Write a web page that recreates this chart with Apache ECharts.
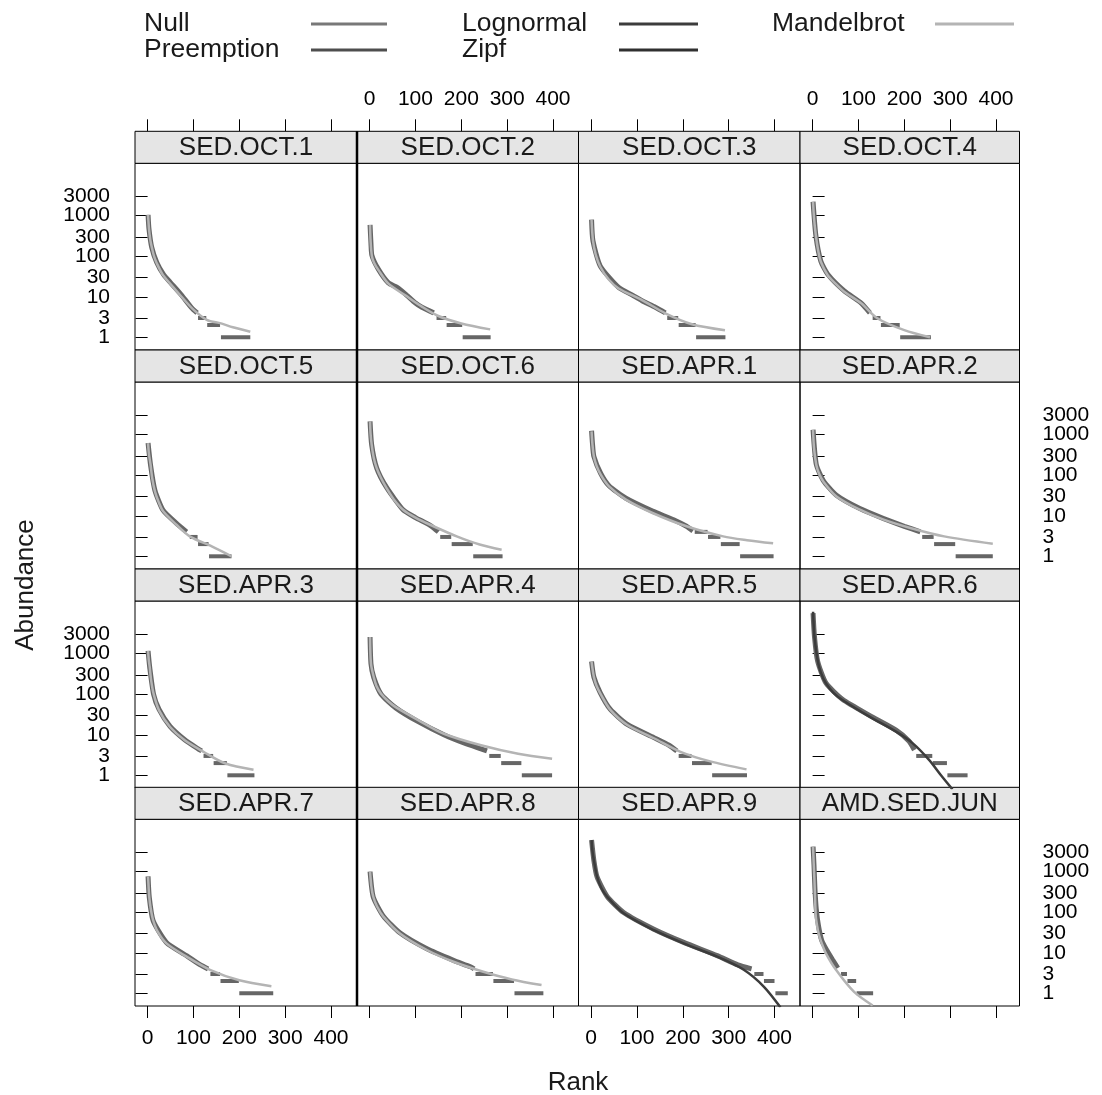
<!DOCTYPE html>
<html><head><meta charset="utf-8">
<script src="https://cdn.jsdelivr.net/npm/echarts@6/dist/echarts.min.js"></script>
<style>html,body{margin:0;padding:0;background:#fff}#c{width:1102px;height:1095px}</style>
</head><body><div id="c"></div>
<script>
// ---------------- data ----------------
const panelNames = ['SED.OCT.1','SED.OCT.2','SED.OCT.3','SED.OCT.4',
  'SED.OCT.5','SED.OCT.6','SED.APR.1','SED.APR.2',
  'SED.APR.3','SED.APR.4','SED.APR.5','SED.APR.6',
  'SED.APR.7','SED.APR.8','SED.APR.9','AMD.SED.JUN'];
const modelNames = ['Null','Preemption','Lognormal','Zipf','Mandelbrot'];
const bestModel = ['Mandelbrot','Mandelbrot','Mandelbrot','Mandelbrot',
  'Mandelbrot','Mandelbrot','Mandelbrot','Mandelbrot',
  'Mandelbrot','Mandelbrot','Mandelbrot','Lognormal',
  'Mandelbrot','Mandelbrot','Lognormal','Mandelbrot'];
const xTicks = [0,100,200,300,400];
const yTicks = [1,3,10,30,100,300,1000,3000];
const yLabelsA = [1,10,100,1000];
const yLabelsB = [3,30,300,3000];

// fitted model curves [rank, abundance]
const fitCurves = [
  [[1,1050],[3,480],[6,250],[9,170],[14,100],[20,67],[33,35],[49,21],[74,10],[100,4.8],[129,2.7],[160,2.2],[186,1.77],[224,1.37]],
  [[1,590],[2,260],[5,100],[10,68],[19,46],[41,21],[77,11],[114,5.7],[150,3.35],[200,2.2],[263,1.57]],
  [[1,780],[4,250],[10,110],[20,55],[38,27],[60,16],[111,8.3],[162,3.9],[220,2.1],[292,1.5]],
  [[1,2200],[3,900],[7,333],[12,140],[18,73],[33,34],[50,21],[69,13.3],[106,6.9],[142,2.9],[200,1.5],[256,1.0]],
  [[1,620],[3,330],[6.5,181],[10,85],[16,40],[24,22],[34,12.9],[63,6.0],[92,3.1],[140,1.75],[183,1.0]],
  [[1,2130],[2,1100],[4.5,565],[9,270],[15.5,150],[25,85],[37,48],[52,26],[73,14.1],[100,9],[132,6.0],[190,3.1],[240,1.95],[288,1.45]],
  [[1,1200],[3,560],[6,294],[12,170],[21,103],[39,53],[76,25],[134,11.7],[208,5.5],[288,3.1],[340,2.5],[397,2.1]],
  [[1,1320],[3,480],[8,181],[14,110],[23,71],[52,30],[103,14.1],[155,8],[213,5],[287,3.1],[393,2.05]],
  [[1,1170],[2.5,700],[4.6,470],[8,210],[13,103],[25,40],[49,15.5],[81,7.3],[122,3.8],[170,1.95],[231,1.37]],
  [[1,2570],[3,565],[9,265],[15,160],[25,103],[40,68],[57,48],[106,23],[162,10.6],[243,5.5],[324,3.4],[398,2.57]],
  [[1,630],[6,270],[12,160],[20,105],[42,41],[79,17.4],[137,8.2],[195,3.8],[260,2.2],[339,1.4]],
  [[1,10800],[4,2630],[11,690],[18,340],[29,186],[45,110],[65,72],[124,28],[182,11.9],[218,6.2],[254,2.4],[280,1.0],[305,0.45]],
  [[1,755],[3.6,240],[7,120],[12,64],[22,33],[41,17],[85,8.0],[136,3.8],[200,2.1],[270,1.5]],
  [[1,1000],[4,420],[8,240],[16,140],[30,78],[66,30],[125,11.7],[183,6.0],[248,3.4],[310,2.2],[375,1.6]],
  [[1,6000],[3,3200],[6,1940],[13,760],[22,400],[35,240],[71,94],[137,36],[202,17],[275,8.0],[333,3.8],[377,1.45],[413,0.45]],
  [[1,4150],[2.5,1500],[4,620],[5.5,200],[7,78],[10,45],[13,30],[20,17],[29,9.7],[51,3.8],[90,1.1],[131,0.5]]
];

// observed abundances: upper part [rank, abundance]
const obsHead = [
  [[1,1050],[3,470],[9,165],[20,70],[35,35],[49,23],[74,11],[95,5.5],[108,4]],
  [[1,590],[3,200],[5,105],[19,48],[41,22],[60,17],[77,12],[100,7],[114,5.5],[140,4]],
  [[1,800],[4,240],[20,57],[60,17],[90,11],[111,8],[140,5.5],[162,4]],
  [[1,2200],[7,330],[18,75],[33,36],[69,14],[106,7],[125,4]],
  [[1,620],[6.5,175],[16,42],[34,13.5],[63,6.5],[85,4]],
  [[1,2130],[4.5,560],[15.5,150],[37,50],[73,14],[100,9],[132,5.8],[150,4]],
  [[1,1250],[3,600],[6,290],[21,110],[39,55],[76,27],[134,13],[180,8],[208,5.5],[222,4.2]],
  [[1,1320],[8,185],[23,75],[52,32],[103,15],[155,8.5],[200,5.5],[235,4]],
  [[1,1170],[4.6,460],[13,100],[25,42],[49,16],[81,7.5],[110,4.5],[118,4]],
  [[1,2570],[3,560],[9,260],[25,100],[57,46],[106,21],[162,10],[210,6],[243,4.5],[256,4]],
  [[1,640],[6,265],[20,108],[42,42],[79,18],[137,8.5],[170,5.5],[187,4]],
  [[1,10000],[4,2700],[11,650],[29,190],[65,75],[124,30],[182,13],[210,7],[222,4.2]],
  [[1,760],[3.6,235],[12,62],[41,18],[85,8.5],[115,5],[132,4]],
  [[1,1000],[8,235],[30,80],[66,31],[125,12.5],[183,6.5],[220,4.5],[228,4]],
  [[1,6000],[6,1900],[13,740],[35,245],[71,98],[137,38],[202,18],[275,8.5],[320,5],[350,4]],
  [[1,4150],[3,1500],[5,400],[8,120],[13,45],[20,20],[30,12],[44,6.6],[55,4.2]]
];

// observed abundances: tied tail [abundance, firstRank, lastRank]
const obsTail = [
  [[3,110,128],[2,130,158],[1,160,224]],
  [[3,146,167],[2,168,202],[1,203,264]],
  [[3,166,190],[2,191,228],[1,229,293]],
  [[3,131,148],[2,149,190],[1,191,258]],
  [[3,92,109],[2,110,133],[1,134,183]],
  [[3,154,178],[2,179,225],[1,226,290]],
  [[4,226,254],[3,255,282],[2,283,324],[1,325,398]],
  [[3,239,264],[2,265,311],[1,312,393]],
  [[3,122,143],[2,144,173],[1,174,233]],
  [[3,261,286],[2,287,331],[1,332,398]],
  [[3,191,219],[2,220,263],[1,264,340]],
  [[3,226,261],[2,262,293],[1,294,338]],
  [[3,137,158],[2,159,199],[1,200,274]],
  [[3,231,269],[2,270,315],[1,316,379]],
  [[3,356,376],[2,377,400],[1,402,429]],
  [[3,62,75],[2,76,95],[1,96,132]]
];

// ---------------- styles / layout ----------------
const modelColors = {Null:'#787878', Preemption:'#4e4e4e', Lognormal:'#3c3c3c', Zipf:'#303030', Mandelbrot:'#b4b4b4'};
const OBS = '#666666';
const FONT = '"Liberation Sans", Arial, sans-serif';
const colL = [135, 357, 578.5, 800];
const colR = [357, 578.5, 800, 1019.5];
const stripTop = [131.3, 350, 569, 787.3];
const STRIP_H = 32;
const panelBottom = [350, 569, 788, 1006];
const PX_PER_RANK = 0.4585, RANK0_OFF = 12.6;
const PX_PER_DEC = 40.55, ONE_OFF = 12.7;

const grids = [], xAxes = [], yAxes = [], series = [], graphics = [];

panelNames.forEach((name, i) => {
  const r = Math.floor(i / 4), c = i % 4;
  const top = stripTop[r] + STRIP_H;
  const w = colR[c] - colL[c];
  const h = panelBottom[r] - top;
  grids.push({left: colL[c], top: top, width: w, height: h, show: true,
    borderColor: '#000', borderWidth: 1, backgroundColor: 'transparent',
    containLabel: false, outerBoundsMode: 'none'});
  const xShowTick = (r === 0 || r === 3);
  const xShowLab = (r === 0 && c % 2 === 1) || (r === 3 && c % 2 === 0);
  xAxes.push({gridIndex: i, type: 'value',
    min: -RANK0_OFF / PX_PER_RANK, max: (w - RANK0_OFF) / PX_PER_RANK,
    position: r === 0 ? 'top' : 'bottom', offset: r === 0 ? STRIP_H : 0,
    axisLine: {show: false},
    axisTick: {show: xShowTick, length: 12, customValues: xTicks, lineStyle: {color: '#000', width: 1}},
    axisLabel: {show: xShowLab, customValues: xTicks, fontSize: 21, fontFamily: FONT, color: '#000', margin: 22,
      showMinLabel: true, showMaxLabel: true, hideOverlap: false,
      formatter: v => String(Math.round(v))},
    splitLine: {show: false}});
  const yShowTick = (c === 0 || c === 3);
  const yShowLab = (c === 0 && r % 2 === 0) || (c === 3 && r % 2 === 1);
  const ymin = Math.pow(10, -ONE_OFF / PX_PER_DEC), ymax = Math.pow(10, (h - ONE_OFF) / PX_PER_DEC);
  // two coincident log axes so that the tightly packed labels are not thinned out
  [yLabelsA, yLabelsB].forEach((labs, k) => {
    yAxes.push({gridIndex: i, type: 'log', logBase: 10, min: ymin, max: ymax,
      position: c === 3 ? 'right' : 'left',
      axisLine: {show: false},
      axisTick: {show: yShowTick && k === 0, length: 12, customValues: yTicks, lineStyle: {color: '#000', width: 1}},
      axisLabel: {show: yShowLab, customValues: labs, fontSize: 21, fontFamily: FONT, color: '#000',
        margin: c === 3 ? 23 : 25, showMinLabel: true, showMaxLabel: true, hideOverlap: false,
        formatter: v => String(Math.round(v))},
      splitLine: {show: false}, minorTick: {show: false}});
  });
  const yi = 2 * i;

  // observed
  series.push({type: 'line', xAxisIndex: i, yAxisIndex: yi, data: obsHead[i], symbol: 'none', smooth: 0.2,
    lineStyle: {color: OBS, width: 5}, z: 2, silent: true, animation: false});
  obsTail[i].forEach(t => {
    series.push({type: 'line', xAxisIndex: i, yAxisIndex: yi, data: [[t[1], t[0]], [t[2], t[0]]], symbol: 'none',
      lineStyle: {color: OBS, width: 4, cap: 'butt'}, z: 2, silent: true, animation: false});
  });
  // fitted best model
  series.push({type: 'line', name: bestModel[i], xAxisIndex: i, yAxisIndex: yi, data: fitCurves[i], symbol: 'none',
    smooth: 0.3, lineStyle: {color: modelColors[bestModel[i]], width: 2.5}, z: 3, silent: true, animation: false});

  // strip
  graphics.push({type: 'rect', shape: {x: colL[c], y: stripTop[r], width: w, height: STRIP_H},
    style: {fill: '#e5e5e5', stroke: '#000', lineWidth: 1}, z: 1});
  graphics.push({type: 'text', x: colL[c] + w / 2, y: stripTop[r] + STRIP_H / 2 + 1,
    style: {text: name, fontSize: 26, fontFamily: FONT, fill: '#1a1a1a', align: 'center', verticalAlign: 'middle'}, z: 2});
});

// heavier divider between first and second column
graphics.push({type: 'line', shape: {x1: 357, y1: stripTop[0], x2: 357, y2: panelBottom[3]},
  style: {stroke: '#000', lineWidth: 2.5}, z: 5});

// legend (key)
const legendPos = {
  Null: [144, 24, 311, 387], Preemption: [144, 50, 311, 387],
  Lognormal: [462, 24, 619, 698], Zipf: [462, 50, 619, 698],
  Mandelbrot: [772, 24, 935, 1014]
};
modelNames.forEach(m => {
  const p = legendPos[m];
  graphics.push({type: 'text', x: p[0], y: p[1],
    style: {text: m, fontSize: 26.5, fontFamily: FONT, fill: '#1a1a1a', align: 'left', verticalAlign: 'middle'}});
  graphics.push({type: 'line', shape: {x1: p[2], y1: p[1], x2: p[3], y2: p[1]},
    style: {stroke: modelColors[m], lineWidth: 3}});
});

// axis titles
graphics.push({type: 'text', x: 578, y: 1083,
  style: {text: 'Rank', fontSize: 26, fontFamily: FONT, fill: '#1a1a1a', align: 'center', verticalAlign: 'middle'}});
graphics.push({type: 'text', x: 26, y: 585, rotation: Math.PI / 2,
  style: {text: 'Abundance', fontSize: 26, fontFamily: FONT, fill: '#1a1a1a', align: 'center', verticalAlign: 'middle'}});

const chart = echarts.init(document.getElementById('c'), null, {renderer: 'canvas'});
chart.setOption({
  animation: false,
  backgroundColor: '#fff',
  grid: grids, xAxis: xAxes, yAxis: yAxes, series: series, graphic: graphics
});
</script>
</body></html>
